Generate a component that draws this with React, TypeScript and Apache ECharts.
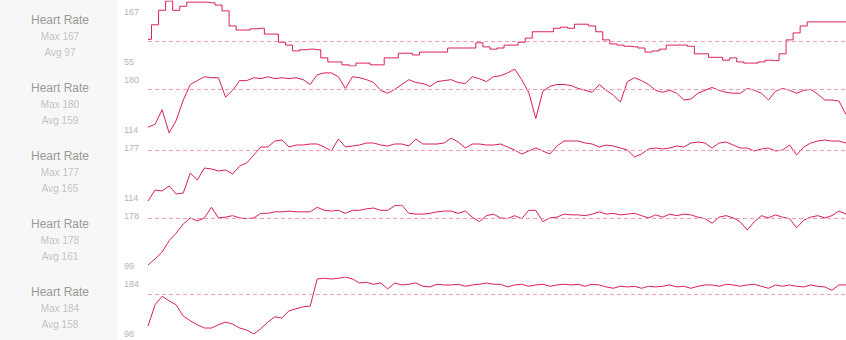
import React, { useEffect, useRef } from "react";
import * as echarts from "echarts";

const titles = ["Heart Rate", "Heart Rate", "Heart Rate", "Heart Rate", "Heart Rate"];
const maxes = [167, 180, 177, 178, 184];
const mins = [55, 114, 114, 99, 98];
const avgs = [97, 159, 165, 161, 158];

const hr1 = [101, 126, 151, 167, 151, 158, 165, 165, 165, 164, 160, 150, 124, 117, 117, 119, 120, 110, 110, 96,
  91, 81, 83, 84, 83, 69, 62, 62, 57, 55, 60, 60, 57, 57, 69, 69, 77, 77, 74, 79,
  79, 79, 79, 86, 86, 86, 86, 95, 88, 84, 86, 91, 91, 96, 103, 114, 114, 114, 120, 122,
  120, 127, 127, 124, 114, 100, 93, 91, 89, 88, 86, 79, 81, 84, 91, 91, 91, 89, 76, 76,
  70, 70, 65, 69, 62, 60, 60, 62, 65, 64, 76, 100, 112, 124, 131, 131, 131, 131, 131, 131];

const hr2 = [120, 123, 138, 114, 127, 148, 164, 168, 172, 171, 171, 151, 158, 168, 168, 171, 170, 172, 170, 171,
  170, 171, 169, 164, 174, 176, 176, 172, 160, 172, 171, 169, 166, 158, 155, 159, 164, 169, 166, 165,
  162, 167, 168, 169, 166, 165, 172, 170, 167, 172, 173, 176, 180, 169, 156, 129, 157, 162, 164, 164,
  163, 160, 158, 156, 164, 158, 153, 146, 167, 171, 168, 164, 158, 156, 158, 155, 148, 149, 155, 158,
  161, 158, 156, 155, 155, 160, 158, 155, 148, 157, 160, 158, 155, 158, 159, 154, 148, 148, 147, 133];

const hr3 = [114, 125, 124, 129, 121, 122, 142, 135, 147, 146, 144, 145, 141, 149, 152, 160, 168, 168, 174, 175,
  168, 170, 170, 171, 171, 168, 164, 176, 168, 169, 170, 172, 172, 170, 169, 171, 171, 169, 176, 171,
  171, 171, 172, 177, 173, 167, 171, 171, 170, 170, 171, 168, 165, 161, 164, 167, 164, 161, 169, 174,
  174, 174, 172, 171, 168, 170, 169, 167, 165, 158, 161, 166, 167, 166, 167, 169, 168, 172, 173, 172,
  167, 172, 173, 170, 167, 167, 164, 166, 167, 164, 165, 170, 160, 168, 172, 174, 175, 174, 174, 172];

const hr4 = [99, 107, 116, 131, 141, 153, 161, 157, 161, 175, 161, 162, 164, 161, 160, 161, 167, 167, 169, 169,
  170, 169, 169, 169, 175, 171, 170, 171, 167, 171, 171, 173, 174, 171, 171, 177, 178, 167, 166, 166,
  167, 169, 170, 170, 167, 170, 162, 156, 164, 166, 161, 160, 164, 160, 171, 171, 156, 161, 162, 166,
  165, 165, 164, 166, 169, 166, 167, 165, 166, 167, 164, 161, 165, 162, 166, 164, 166, 165, 162, 160,
  154, 162, 164, 161, 156, 145, 156, 164, 161, 165, 162, 160, 148, 158, 162, 164, 161, 164, 170, 166];

const hr5 = [110, 142, 155, 148, 142, 125, 118, 112, 107, 107, 112, 116, 113, 107, 104, 98, 106, 116, 124, 122,
  133, 136, 139, 140, 181, 182, 181, 182, 184, 181, 175, 176, 173, 175, 166, 175, 172, 173, 175, 170,
  169, 173, 172, 172, 173, 170, 172, 173, 175, 173, 173, 169, 172, 173, 170, 172, 173, 170, 172, 173,
  172, 173, 170, 173, 172, 169, 167, 170, 169, 170, 167, 170, 169, 170, 172, 169, 170, 167, 170, 172,
  172, 170, 173, 172, 170, 172, 173, 170, 167, 172, 170, 172, 170, 169, 172, 170, 169, 164, 172, 172];

const seriesData = [hr1, hr2, hr3, hr4, hr5];
const stepped = [true, false, false, false, false];

// layout (pixels)
const ROW_H = 68;
const plotTops = [1, 69, 138, 205, 277];
const plotHeights = [65, 64, 63, 60, 57];
const PLOT_LEFT = 148;
const PANEL_W = 118;

const LINE_COLOR = "#d91e5b";
const AVG_COLOR = "#f09ab8";
const FONT = "'Liberation Sans', Arial, Helvetica, sans-serif";

export default function App() {
  const ref = useRef<HTMLDivElement>(null);

  useEffect(() => {
    if (!ref.current) return;
    const chart = echarts.init(ref.current, undefined, { renderer: "svg" });

    const grids = seriesData.map((_, i) => ({
      left: PLOT_LEFT,
      right: 0,
      top: plotTops[i],
      height: plotHeights[i],
    }));
    const xAxes = seriesData.map((d, i) => ({
      type: "category" as const,
      gridIndex: i,
      boundaryGap: false,
      data: d.map((_, k) => k),
      show: false,
    }));
    const yAxes = seriesData.map((_, i) => ({
      type: "value" as const,
      gridIndex: i,
      min: mins[i],
      max: maxes[i],
      show: false,
    }));
    const series = seriesData.map((d, i) => ({
      type: "line" as const,
      xAxisIndex: i,
      yAxisIndex: i,
      data: d,
      step: stepped[i] ? "middle" : false,
      showSymbol: false,
      symbol: "none",
      lineStyle: { color: LINE_COLOR, width: 1 },
      markLine: {
        silent: true,
        symbol: "none",
        label: { show: false },
        lineStyle: { color: AVG_COLOR, type: [4, 3], width: 1, opacity: 1 },
        emphasis: { disabled: true },
        data: [{ yAxis: avgs[i], lineStyle: { color: AVG_COLOR } }],
      },
    }));

    const graphics: any[] = [
      {
        type: "rect",
        shape: { x: 0, y: 0, width: PANEL_W, height: 340 },
        style: { fill: "#f7f7f7" },
        silent: true,
      },
    ];
    titles.forEach((t, i) => {
      const T = i * ROW_H;
      graphics.push(
        {
          type: "text",
          x: 60,
          y: T + 20,
          style: { text: t, fill: "#9a9a9a", font: `12px ${FONT}`, align: "center", verticalAlign: "middle" },
        },
        {
          type: "text",
          x: 60,
          y: T + 36,
          style: { text: `Max ${maxes[i]}`, fill: "#c4c4c4", font: `10px ${FONT}`, align: "center", verticalAlign: "middle" },
        },
        {
          type: "text",
          x: 60,
          y: T + 52,
          style: { text: `Avg ${avgs[i]}`, fill: "#c4c4c4", font: `10px ${FONT}`, align: "center", verticalAlign: "middle" },
        },
        {
          type: "text",
          x: 124,
          y: T + 12,
          style: { text: String(maxes[i]), fill: "#b5b5b5", font: `9px ${FONT}`, align: "left", verticalAlign: "middle" },
        },
        {
          type: "text",
          x: 124,
          y: T + 62,
          style: { text: String(mins[i]), fill: "#b5b5b5", font: `9px ${FONT}`, align: "left", verticalAlign: "middle" },
        }
      );
    });

    chart.setOption({
      animation: false,
      backgroundColor: "#ffffff",
      grid: grids,
      xAxis: xAxes,
      yAxis: yAxes,
      series,
      graphic: graphics,
    });

    return () => chart.dispose();
  }, []);

  return (
    <div
      ref={ref}
      style={{ position: "fixed", left: 0, top: 0, width: 846, height: 340 }}
    />
  );
}
